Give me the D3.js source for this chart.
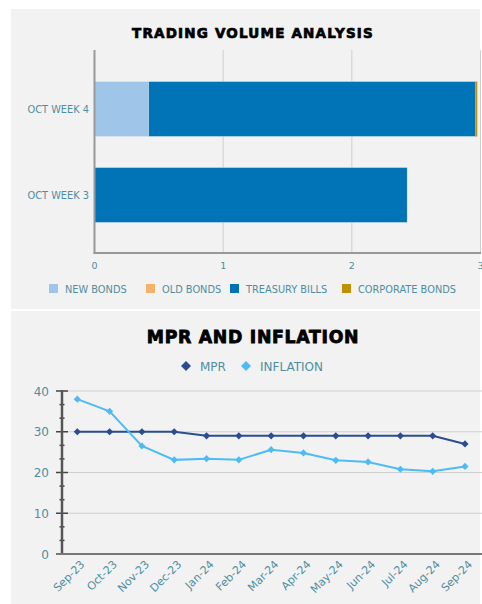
<!DOCTYPE html>
<html>
<head>
<meta charset="utf-8">
<script src="https://cdn.jsdelivr.net/npm/d3@7"></script>
<style>
  body { margin: 0; background: #fff; }
  text { font-family: "DejaVu Sans", Verdana, sans-serif; }
</style>
</head>
<body>
<div id="chart"></div>
<script>
// Trading volume + MPR / inflation dashboard

// Part I. Data
var weeks = ["OCT WEEK 4", "OCT WEEK 3"];
var bondTypes = ["NEW BONDS", "OLD BONDS", "TREASURY BILLS", "CORPORATE BONDS"];
var newBonds = [0.42, 0];
var oldBonds = [0, 0];
var treasuryBills = [2.54, 2.43];
var corporateBonds = [0.015, 0];
var volumeTicks = [0, 1, 2, 3];

var months = ["Sep-23", "Oct-23", "Nov-23", "Dec-23", "Jan-24", "Feb-24", "Mar-24",
    "Apr-24", "May-24", "Jun-24", "Jul-24", "Aug-24", "Sep-24"];
var mpr = [30, 30, 30, 30, 29, 29, 29, 29, 29, 29, 29, 29, 27];
var inflation = [38.0, 35.0, 26.5, 23.1, 23.4, 23.1, 25.6, 24.8, 23.0, 22.6, 20.8, 20.3, 21.5];
var rateTicks = [0, 10, 20, 30, 40];

var bondColors = ["#9fc5e8", "#f6b26b", "#0074b7", "#bf9000"];
var labelColor = "#4f8ea0";

var svg = d3.select("#chart")
    .append("svg")
    .attr("width", 482)
    .attr("height", 604);

// panels
svg.append("rect").attr("x", 11).attr("y", 9).attr("width", 469).attr("height", 300).attr("fill", "#f2f2f2");
svg.append("rect").attr("x", 11).attr("y", 311).attr("width", 469).attr("height", 293).attr("fill", "#f2f2f2");

// Part II. Stacked bar chart
svg.append("text")
    .attr("x", 253)
    .attr("y", 38)
    .attr("text-anchor", "middle")
    .style("font-weight", "bold")
    .style("font-size", "13.5px")
    .style("letter-spacing", "1.2px")
    .attr("stroke", "#000")
    .attr("stroke-width", 0.7)
    .text("TRADING VOLUME ANALYSIS");

var xScale = d3.scaleLinear().domain([0, 3]).range([94.5, 480.5]);
var yBand = d3.scaleBand().domain(weeks).range([66, 238]).paddingInner(0.36).paddingOuter(0.18);

// gridlines
svg.append("g")
    .selectAll("line")
    .data(volumeTicks.slice(1))
    .enter()
    .append("line")
    .attr("x1", d => xScale(d))
    .attr("x2", d => xScale(d))
    .attr("y1", 50)
    .attr("y2", 253)
    .attr("stroke", "#cfcfcf")
    .attr("stroke-width", 1);

var rows = weeks.map((w, i) => ({
    week: w,
    values: [newBonds[i], oldBonds[i], treasuryBills[i], corporateBonds[i]]
}));

var barGroup = svg.append("g");
rows.forEach(row => {
    var start = 0;
    row.values.forEach((v, j) => {
        if (v > 0) {
            barGroup.append("rect")
                .attr("x", xScale(start))
                .attr("y", yBand(row.week))
                .attr("width", xScale(start + v) - xScale(start))
                .attr("height", yBand.bandwidth())
                .attr("fill", bondColors[j])
                .attr("stroke", j == 3 ? "none" : "#dfe9f2")
                .attr("stroke-width", 0.5);
        }
        start += v;
    });
});

// axes lines
svg.append("line").attr("x1", 94.5).attr("x2", 94.5).attr("y1", 50).attr("y2", 254)
    .attr("stroke", "#999").attr("stroke-width", 2);
svg.append("line").attr("x1", 93.5).attr("x2", 481).attr("y1", 253).attr("y2", 253)
    .attr("stroke", "#999").attr("stroke-width", 2);

svg.append("g")
    .selectAll("text")
    .data(weeks)
    .enter()
    .append("text")
    .attr("x", 89)
    .attr("y", d => yBand(d) + yBand.bandwidth() / 2 + 3.5)
    .attr("text-anchor", "end")
    .attr("fill", labelColor)
    .style("font-size", "9.8px")
    .text(d => d);

svg.append("g")
    .selectAll("text")
    .data(volumeTicks)
    .enter()
    .append("text")
    .attr("x", d => xScale(d))
    .attr("y", 269)
    .attr("text-anchor", "middle")
    .attr("fill", labelColor)
    .style("font-size", "9.5px")
    .text(d => d);

// legend
var legendX = [49, 146, 230, 342];
var legend = svg.append("g");
bondTypes.forEach((b, i) => {
    legend.append("rect")
        .attr("x", legendX[i])
        .attr("y", 284)
        .attr("width", 9)
        .attr("height", 9)
        .attr("fill", bondColors[i]);
    legend.append("text")
        .attr("x", legendX[i] + 16)
        .attr("y", 292.5)
        .attr("fill", labelColor)
        .style("font-size", "9.8px")
        .text(b);
});

// Part III. MPR and inflation line chart
svg.append("text")
    .attr("x", 253)
    .attr("y", 343)
    .attr("text-anchor", "middle")
    .style("font-weight", "bold")
    .style("font-size", "17.3px")
    .style("letter-spacing", "0.7px")
    .attr("stroke", "#000")
    .attr("stroke-width", 0.8)
    .text("MPR AND INFLATION");

var xPoint = d3.scalePoint().domain(months).range([77.3, 465]);
var yScale = d3.scaleLinear().domain([0, 40]).range([554, 391]);

// gridlines
svg.append("g")
    .selectAll("line")
    .data(rateTicks.slice(1))
    .enter()
    .append("line")
    .attr("x1", 62)
    .attr("x2", 482)
    .attr("y1", d => yScale(d))
    .attr("y2", d => yScale(d))
    .attr("stroke", "#cfcfcf")
    .attr("stroke-width", 1);

// minor ticks
var minor = d3.range(0, 40, 10 / 3).filter((d, i) => i % 3 != 0);
svg.append("g")
    .selectAll("line")
    .data(minor)
    .enter()
    .append("line")
    .attr("x1", 59.5)
    .attr("x2", 64.5)
    .attr("y1", d => yScale(d))
    .attr("y2", d => yScale(d))
    .attr("stroke", "#444")
    .attr("stroke-width", 1.5);

svg.append("g")
    .selectAll("line")
    .data(rateTicks)
    .enter()
    .append("line")
    .attr("x1", 56)
    .attr("x2", 68)
    .attr("y1", d => yScale(d))
    .attr("y2", d => yScale(d))
    .attr("stroke", "#444")
    .attr("stroke-width", 1.5);

svg.append("line").attr("x1", 62).attr("x2", 62).attr("y1", 390).attr("y2", 555)
    .attr("stroke", "#555").attr("stroke-width", 2.5);
svg.append("line").attr("x1", 56).attr("x2", 482).attr("y1", 554).attr("y2", 554)
    .attr("stroke", "#777").attr("stroke-width", 2);

svg.append("g")
    .selectAll("text")
    .data(rateTicks)
    .enter()
    .append("text")
    .attr("x", 49)
    .attr("y", d => yScale(d) + 4.5)
    .attr("text-anchor", "end")
    .attr("fill", labelColor)
    .style("font-size", "12px")
    .text(d => d);

svg.append("g")
    .selectAll("text")
    .data(months)
    .enter()
    .append("text")
    .attr("transform", d => "translate(" + (xPoint(d) + 8) + ",565) rotate(-45)")
    .attr("text-anchor", "end")
    .attr("fill", labelColor)
    .style("font-size", "11px")
    .text(d => d);

// lines
var series = [
    {name: "MPR", values: mpr, color: "#2b4d8f"},
    {name: "INFLATION", values: inflation, color: "#4dbcf5"}
];
var line = d3.line()
    .x((d, i) => xPoint(months[i]))
    .y(d => yScale(d));
var marker = d3.symbol().type(d3.symbolSquare).size(26);

series.forEach(s => {
    svg.append("path")
        .datum(s.values)
        .attr("d", line)
        .attr("fill", "none")
        .attr("stroke", s.color)
        .attr("stroke-width", 2);
    svg.append("g")
        .selectAll("path")
        .data(s.values)
        .enter()
        .append("path")
        .attr("d", marker)
        .attr("transform", (d, i) => "translate(" + xPoint(months[i]) + "," + yScale(d) + ") rotate(45)")
        .attr("fill", s.color);
});

// legend
var lineLegendX = [186, 246];
series.forEach((s, i) => {
    svg.append("path")
        .attr("d", d3.symbol().type(d3.symbolSquare).size(50))
        .attr("transform", "translate(" + lineLegendX[i] + ",366) rotate(45)")
        .attr("fill", s.color);
    svg.append("text")
        .attr("x", lineLegendX[i] + 14)
        .attr("y", 370.5)
        .attr("fill", labelColor)
        .style("font-size", "12px")
        .text(s.name);
});
</script>
</body>
</html>
